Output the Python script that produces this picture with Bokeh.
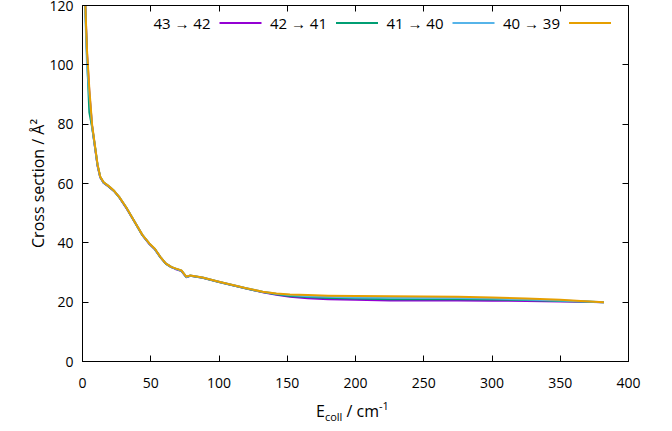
from bokeh.plotting import figure
from bokeh.models import Range1d, LinearAxis, SingleIntervalTicker, Label, Arrow, Div
from bokeh.layouts import column
from bokeh.embed import file_html
from bokeh.resources import INLINE

# ---- data ----
energy = [1, 2, 3.3, 5, 7, 9.5, 11, 13, 15.5, 19, 23, 27, 32, 38, 44, 49, 53, 57, 61,
          65, 68, 72.5, 76, 79, 88, 100, 110, 120, 132, 142, 152, 165, 180, 200, 225,
          250, 275, 300, 325, 350, 365, 382]

sigma_43_42 = [145, 121, 104, 91, 79.5, 71.0, 66.0, 62.0, 60.2, 59.0, 57.5, 55.3, 51.8,
               47.2, 42.5, 39.6, 37.8, 35.2, 33.0, 31.8, 31.2, 30.5, 28.4, 28.9, 28.2,
               26.8, 25.7, 24.6, 23.3, 22.5, 21.8, 21.3, 21.0, 20.8, 20.6, 20.6, 20.6,
               20.5, 20.4, 20.2, 20.1, 20.0]
sigma_42_41 = [144, 120, 103, 84, 79, 71.3, 66.2, 62.2, 60.3, 59.1, 57.5, 55.3, 51.9,
               47.2, 42.5, 39.7, 37.9, 35.2, 33.0, 31.8, 31.3, 30.6, 28.5, 28.9, 28.2,
               26.8, 25.7, 24.6, 23.4, 22.7, 22.1, 21.7, 21.4, 21.2, 21.0, 21.0, 21.0,
               20.9, 20.7, 20.4, 20.2, 20.0]
sigma_41_40 = [143, 118, 100, 90, 79.5, 71.2, 66.3, 62.2, 60.3, 59.2, 57.6, 55.4, 52.0,
               47.3, 42.6, 39.7, 37.9, 35.3, 33.1, 31.9, 31.3, 30.6, 28.5, 29.0, 28.3,
               26.9, 25.8, 24.7, 23.5, 22.8, 22.4, 22.0, 21.8, 21.6, 21.5, 21.4, 21.4,
               21.2, 20.9, 20.6, 20.3, 20.0]
sigma_40_39 = [145, 121, 105, 92, 80, 71.5, 66.5, 62.3, 60.4, 59.2, 57.6, 55.4, 52.0,
               47.3, 42.6, 39.8, 38.0, 35.3, 33.1, 31.9, 31.4, 30.7, 28.6, 29.0, 28.3,
               26.9, 25.8, 24.7, 23.5, 22.9, 22.6, 22.4, 22.2, 22.1, 22.0, 21.9, 21.8,
               21.6, 21.2, 20.8, 20.4, 20.0]

series_labels = ["43 → 42", "42 → 41", "41 → 40", "40 → 39"]
series_values = [sigma_43_42, sigma_42_41, sigma_41_40, sigma_40_39]
colors = ["#9400d3", "#009e73", "#56b4e9", "#e69f00"]

x_ticks_step = 50
y_ticks_step = 20

FONT = "Open Sans"

# ---- layout constants (pixels) ----
W, H = 672, 431
LABEL_H = 36                      # height of the x-axis-label strip below the figure
FH = H - LABEL_H                  # figure height
FL, FR, FT, FB = 82, 628, 5, 361   # frame left/right/top/bottom
X0, X1, Y0, Y1 = 0, 400, 0, 120

def dx(px):
    return X0 + (px - FL) * (X1 - X0) / (FR - FL)

def dy(py):
    return Y0 + (FB - py) * (Y1 - Y0) / (FB - FT)

p = figure(width=W, height=FH, output_backend="svg", toolbar_location=None,
           x_range=Range1d(X0, X1), y_range=Range1d(Y0, Y1),
           min_border_left=FL, min_border_right=W - FR,
           min_border_top=FT, min_border_bottom=FH - FB,
           x_axis_label=None, y_axis_label="Cross section / Å²")

p.background_fill_color = "white"
p.border_fill_color = "white"
p.outline_line_color = "black"
p.outline_line_width = 1
p.xgrid.visible = False
p.ygrid.visible = False

for ax, step in ((p.xaxis[0], x_ticks_step), (p.yaxis[0], y_ticks_step)):
    ax.ticker = SingleIntervalTicker(interval=step)
    ax.minor_tick_line_color = None
    ax.major_tick_in = 6
    ax.major_tick_out = 0
    ax.major_tick_line_color = "black"
    ax.axis_line_color = "black"
    ax.major_label_text_font = FONT
    ax.major_label_text_font_size = "14px"
    ax.major_label_text_color = "black"
    ax.axis_label_text_font = FONT
    ax.axis_label_text_font_size = "16px"
    ax.axis_label_text_font_style = "normal"
    ax.axis_label_text_color = "black"

p.xaxis[0].major_label_standoff = 12
p.yaxis[0].major_label_standoff = 5
p.yaxis[0].axis_label_standoff = -3

# mirrored ticks on top and right (labels not drawn)
top_ax = LinearAxis(ticker=SingleIntervalTicker(interval=x_ticks_step),
                    major_label_text_color=None, major_label_text_font_size="1px",
                    major_label_standoff=0,
                    major_tick_in=6, major_tick_out=0, minor_tick_line_color=None,
                    axis_line_color=None, major_tick_line_color="black")
right_ax = LinearAxis(ticker=SingleIntervalTicker(interval=y_ticks_step),
                      major_label_text_color=None, major_label_text_font_size="1px",
                      major_label_standoff=0,
                      major_tick_in=6, major_tick_out=0, minor_tick_line_color=None,
                      axis_line_color=None, major_tick_line_color="black")
p.add_layout(top_ax, "above")
p.add_layout(right_ax, "right")

# ---- curves ----
for lab, vals, col in zip(series_labels, series_values, colors):
    p.line(energy, vals, line_color=col, line_width=2, line_join="round")

# ---- legend (text then sample, gnuplot style) ----
leg_y = dy(22.5)
for i, (lab, col) in enumerate(zip(series_labels, colors)):
    start_px = 219 + 116.5 * i
    p.add_layout(Label(x=dx(start_px - 9), y=leg_y, text=lab,
                       text_align="right", text_baseline="middle",
                       text_font=FONT, text_font_size="15px", text_color="black"))
    p.add_layout(Arrow(x_start=dx(start_px), y_start=leg_y,
                       x_end=dx(start_px + 42), y_end=leg_y,
                       end=None, line_color=col, line_width=2))

# ---- x axis label with subscript/superscript (HTML strip below the figure) ----
xlabel = Div(
    text='E<sub style="font-size:11px;vertical-align:-4px;">coll</sub> / cm'
         '<sup style="font-size:11px;vertical-align:7px;">-1</sup>',
    width=W, height=LABEL_H, margin=0,
    styles={"font-family": FONT, "font-size": "16px", "color": "black",
            "line-height": "16px", "padding-left": "316px", "padding-top": "3px",
            "box-sizing": "border-box", "white-space": "nowrap",
            "background-color": "white"})

layout = column(p, xlabel, spacing=0)
open("out.html", "w").write(file_html(layout, INLINE))
